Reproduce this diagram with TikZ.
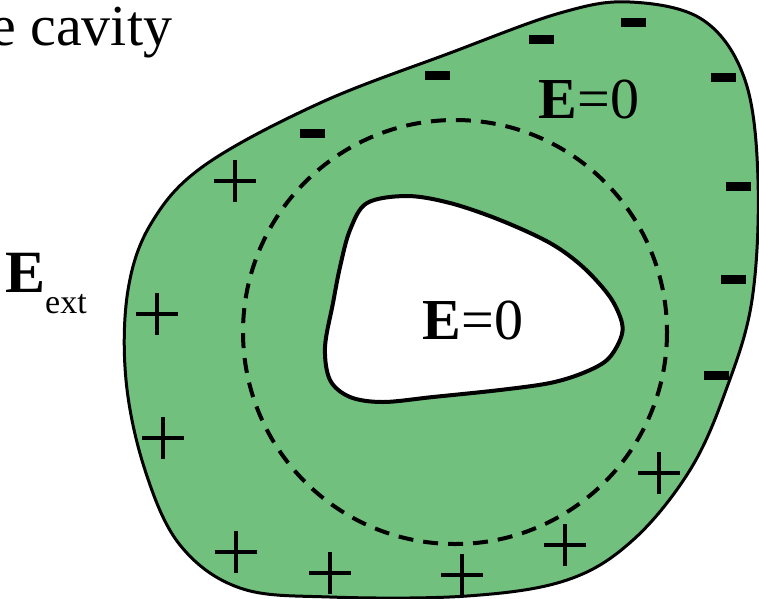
\documentclass[tikz,border=0pt]{standalone}
\usepackage{fontspec}
\setmainfont{Liberation Serif}
\definecolor{condgreen}{RGB}{114,192,125}

\begin{document}
\begin{tikzpicture}[x=1pt,y=-1pt]
  \tikzset{conductor/.style={draw=black,line width=3pt,fill=condgreen}}
  \tikzset{cavity/.style={draw=black,line width=4pt,fill=white}}
  \tikzset{gauss/.style={draw=black,line width=4pt,dash pattern=on 15pt off 10pt}}
  \tikzset{lbl/.style={font=\fontsize{58}{62}\selectfont,inner sep=0pt}}
  \tikzset{plussign/.style={draw=black,line width=4pt}}
  \useasboundingbox (0,0) rectangle (759,598);

  % Conductor (outer surface)
  \path[conductor] plot[smooth cycle,tension=0.6] coordinates {
    (630,2) (703,20) (745,80) (758,180) (752,300) (726,390) (690,470)
    (633,540) (567,580) (467,596) (330,597) (240,588) (180,545) (145,470)
    (126,380) (128,290) (152,222) (205,165) (320,103) (450,53) (560,13)};

  % Cavity
  \path[cavity] plot[smooth cycle,tension=0.55] coordinates {
    (367,203) (407,196) (450,203) (500,220) (550,243) (583,267) (610,297)
    (622,323) (620,340) (607,360) (583,373) (550,383) (500,390) (433,397)
    (383,402) (350,397) (330,380) (325,347) (333,303) (340,267) (350,230)};

  % Gaussian surface
  \def\gx{455}
  \def\gy{332}
  \def\gr{212}
  \draw[gauss] (\gx,\gy) circle (\gr);

  % Induced charges
  \foreach \px/\py in {235/181,157/314,163/438,236/552,330/573,462/575,565/545,659/473}
    \draw[plussign] (\px-21,\py) -- (\px+21,\py) (\px,\py-21) -- (\px,\py+21);
  \foreach \mx/\my in {541/39,633/22,437/75,312/133,723/77,738/186,733/279,716/375}
    \fill[black] (\mx-12.5,\my-4.5) rectangle (\mx+12.5,\my+4.5);

  % Labels
  \node[lbl,anchor=base west] (title) at (-10,45) {e cavity};
  \node[lbl,anchor=base] (einner) at (473,339) {{\bfseries E}=0};
  \node[lbl,anchor=base] (eouter) at (589,118) {{\bfseries E}=0};
  \node[inner sep=0pt,anchor=base west] (eext) at (5,292)
    {{\fontsize{60}{62}\selectfont\bfseries E}\raisebox{-21pt}{\fontsize{34}{36}\selectfont ext}};
\end{tikzpicture}
\end{document}
